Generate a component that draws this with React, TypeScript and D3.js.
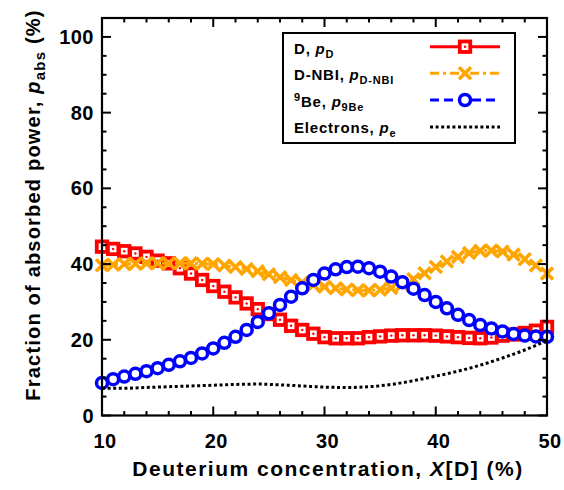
import React from "react";
import * as d3 from "d3";

const xValues: number[] = d3.range(10, 51, 1);
const xElectrons: number[] = d3.range(10, 51, 2);

const pD: number[] = [44.6, 44, 43.4, 42.8, 41.9, 40.9, 40.2, 38.9, 37.5, 35.8, 34.2, 32.7, 31.2, 29.6, 28.1, 26.8, 25.3, 23.7, 22.6, 21.6,
  20.7, 20.4, 20.4, 20.4, 20.7, 20.9, 21.1, 21.2, 21.2, 21.2, 21.1, 20.9, 20.7, 20.5, 20.4, 20.6, 21.1, 21.4, 21.8, 22.4, 23.4];
const pNBI: number[] = [39.7, 39.8, 40, 40.1, 40.2, 40.2, 40.2, 40.2, 40.2, 40.1, 40, 39.6, 39.2, 38.7, 38.1, 37.3, 36.5, 35.8, 35.1, 34.5,
  34, 33.6, 33.3, 33.1, 33, 33.2, 33.7, 34.6, 36, 37.6, 39.2, 40.7, 41.9, 42.9, 43.5, 43.6, 43.3, 42.5, 41.3, 39.6, 37.5];
const pBe: number[] = [8.6, 9.6, 10.3, 11, 11.7, 12.5, 13.4, 14.3, 15.2, 16.4, 17.7, 19.2, 20.8, 22.6, 24.7, 27, 29.2, 31.4, 33.6, 35.8,
  37.5, 38.6, 39.2, 39.3, 38.9, 38, 36.7, 35.2, 33.5, 31.8, 30, 28.3, 26.6, 25.2, 23.9, 23, 22.2, 21.5, 21.1, 20.9, 20.8];
const pE: number[] = [7.2, 7.2, 7.4, 7.6, 7.8, 8.0, 8.2, 8.3, 8.1, 7.8, 7.5, 7.4, 7.6, 8.2, 9.2, 10.4, 11.7, 13.3, 15.2, 17.3, 19.8];

const xMajorTicks = [10, 20, 30, 40, 50];
const xMinorTicks = d3.range(10, 51, 2);
const yMajorTicks = [0, 20, 40, 60, 80, 100];
const yMinorTicks = d3.range(0, 105, 5);

const RED = "#ff0000";
const ORANGE = "#ffa500";
const BLUE = "#0000ff";
const FONT = "'Liberation Sans', Arial, Helvetica, sans-serif";

const W = 564, H = 490;
const L = 102, R = 547, T = 18, B = 415.5;

export default function App() {
  const x = d3.scaleLinear().domain([10, 50]).range([L, R]);
  const y = d3.scaleLinear().domain([0, 105]).range([B, T]);

  const line = d3.line<[number, number]>().x(d => x(d[0])).y(d => y(d[1]));
  const smooth = d3.line<[number, number]>().x(d => x(d[0])).y(d => y(d[1])).curve(d3.curveMonotoneX);

  const dPts: [number, number][] = xValues.map((v, i) => [v, pD[i]]);
  const nPts: [number, number][] = xValues.map((v, i) => [v, pNBI[i]]);
  const bPts: [number, number][] = xValues.map((v, i) => [v, pBe[i]]);
  const ePts: [number, number][] = xElectrons.map((v, i) => [v, pE[i]]);

  const sq = 10.5, cr = 5.5, xs = 6;

  const Square = ({ cx, cy }: { cx: number; cy: number }) => (
    <g>
      <rect x={cx - sq / 2} y={cy - sq / 2} width={sq} height={sq} fill="#fff" stroke={RED} strokeWidth={3.8} />
      <circle cx={cx} cy={cy} r={1.2} fill={RED} />
    </g>
  );
  const Cross = ({ cx, cy }: { cx: number; cy: number }) => (
    <path d={`M${cx - xs},${cy - xs}L${cx + xs},${cy + xs}M${cx - xs},${cy + xs}L${cx + xs},${cy - xs}`} stroke={ORANGE} strokeWidth={3.6} fill="none" />
  );
  const Circ = ({ cx, cy }: { cx: number; cy: number }) => (
    <circle cx={cx} cy={cy} r={cr} fill="#fff" stroke={BLUE} strokeWidth={3.5} />
  );

  const legendRows = [
    { main: "D, ", sup: "", sub: "D", y: 53.5 },
    { main: "D-NBI, ", sup: "", sub: "D-NBI", y: 80 },
    { main: "Be, ", sup: "9", sub: "9Be", y: 106.5 },
    { main: "Electrons, ", sup: "", sub: "e", y: 133 },
  ];
  const lx0 = 430, lx1 = 500, lmx = 465;

  return (
    <svg width={W} height={H} style={{ position: "absolute", left: 0, top: 0, background: "#fff" }} fontFamily={FONT} fontWeight="bold">
      <rect width={W} height={H} fill="#fff" />
      {/* Series */}
      <path d={line(dPts) || ""} fill="none" stroke={RED} strokeWidth={3} />
      {dPts.map((p, i) => <Square key={"d" + i} cx={x(p[0])} cy={y(p[1])} />)}
      <path d={line(nPts) || ""} fill="none" stroke={ORANGE} strokeWidth={3} strokeDasharray="9,4,3,4" />
      {nPts.map((p, i) => <Cross key={"n" + i} cx={x(p[0])} cy={y(p[1])} />)}
      <path d={line(bPts) || ""} fill="none" stroke={BLUE} strokeWidth={3} strokeDasharray="9,5" />
      {bPts.map((p, i) => <Circ key={"b" + i} cx={x(p[0])} cy={y(p[1])} />)}
      <path d={smooth(ePts) || ""} fill="none" stroke="#000" strokeWidth={3} strokeDasharray="3,2.6" />

      {/* Frame */}
      <rect x={L} y={T} width={R - L} height={B - T} fill="none" stroke="#000" strokeWidth={2.2} />
      {xMinorTicks.map(t => {
        const len = xMajorTicks.includes(t) ? 9 : 4.5;
        return (
          <g key={"xt" + t}>
            <line x1={x(t)} x2={x(t)} y1={B} y2={B - len} stroke="#000" strokeWidth={2} />
            <line x1={x(t)} x2={x(t)} y1={T} y2={T + len} stroke="#000" strokeWidth={2} />
          </g>
        );
      })}
      {yMinorTicks.map(t => {
        const len = yMajorTicks.includes(t) ? 9 : 4.5;
        return (
          <g key={"yt" + t}>
            <line x1={L} x2={L + len} y1={y(t)} y2={y(t)} stroke="#000" strokeWidth={2} />
            <line x1={R} x2={R - len} y1={y(t)} y2={y(t)} stroke="#000" strokeWidth={2} />
          </g>
        );
      })}
      {xMajorTicks.map(t => (
        <text key={"xl" + t} x={x(t) + 3} y={448} textAnchor="middle" fontSize={20} letterSpacing={0.5}>{t}</text>
      ))}
      {yMajorTicks.map(t => (
        <text key={"yl" + t} x={94} y={y(t) + 7} textAnchor="end" fontSize={20} letterSpacing={0.5}>{t}</text>
      ))}

      {/* Axis titles */}
      <text x={328} y={476} textAnchor="middle" fontSize={21} letterSpacing={1.5}>
        Deuterium concentration, <tspan fontStyle="italic">X</tspan>[D] (%)
      </text>
      <text transform={`translate(40,205) rotate(-90)`} textAnchor="middle" fontSize={20} letterSpacing={1.2}>
        Fraction of absorbed power, <tspan fontStyle="italic">p</tspan><tspan fontSize={15} dy={5}>abs</tspan><tspan dy={-5}> (%)</tspan>
      </text>

      {/* Legend */}
      <rect x={283} y={33} width={232} height={110} fill="#fff" stroke="#000" strokeWidth={2} />
      {legendRows.map((r, i) => (
        <text key={"lt" + i} x={294} y={r.y} fontSize={15} letterSpacing={0.8}>
          {r.sup ? <tspan fontSize={11} dy={-6}>{r.sup}</tspan> : null}
          <tspan dy={r.sup ? 6 : 0}>{r.main}</tspan>
          <tspan fontStyle="italic">p</tspan>
          <tspan fontSize={11} dy={4}>{r.sub}</tspan>
        </text>
      ))}
      <line x1={lx0} x2={lx1} y1={46.7} y2={46.7} stroke={RED} strokeWidth={3} />
      <Square cx={lmx} cy={46.7} />
      <line x1={lx0} x2={lx1} y1={73.3} y2={73.3} stroke={ORANGE} strokeWidth={3} strokeDasharray="9,4,3,4" />
      <Cross cx={lmx} cy={73.3} />
      <line x1={lx0} x2={lx1} y1={100} y2={100} stroke={BLUE} strokeWidth={3} strokeDasharray="9,5" />
      <Circ cx={lmx} cy={100} />
      <line x1={lx0} x2={lx1} y1={127} y2={127} stroke="#000" strokeWidth={3} strokeDasharray="3,2.6" />
    </svg>
  );
}
